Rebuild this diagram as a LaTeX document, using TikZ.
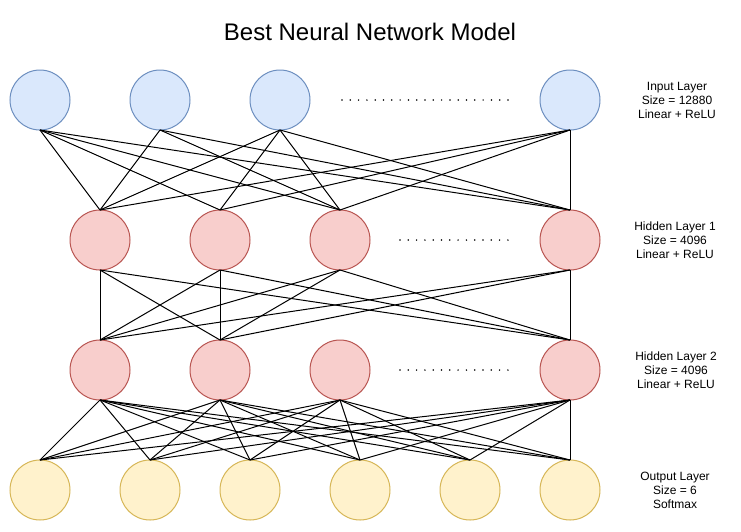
\documentclass[tikz,border=0pt]{standalone}
\usepackage{fontspec}
\setmainfont{Liberation Sans}
\usepackage{xcolor}
\usepackage{tikz}

\definecolor{inFill}{HTML}{DAE8FC}
\definecolor{inLine}{HTML}{6C8EBF}
\definecolor{hidFill}{HTML}{F8CECC}
\definecolor{hidLine}{HTML}{B85450}
\definecolor{outFill}{HTML}{FFF2CC}
\definecolor{outLine}{HTML}{D6B656}

\begin{document}
\begin{tikzpicture}[x=1pt,y=-1pt,
  neuron/.style={circle,minimum size=60pt,inner sep=0pt,outer sep=0pt,line width=1pt},
  inneuron/.style={neuron,draw=inLine,fill=inFill},
  hidneuron/.style={neuron,draw=hidLine,fill=hidFill},
  outneuron/.style={neuron,draw=outLine,fill=outFill},
  layerinfo/.style={align=center,font=\fontsize{12}{14}\selectfont},
  link/.style={line width=1pt,black},
  gap/.style={line width=1.7pt,line cap=round,dash pattern=on 0pt off 8.3pt}]
\useasboundingbox (0,0) rectangle (741,531);

% titolo
\node (title) at (370,32) {\fontsize{24}{28}\selectfont Best Neural Network Model};

% strato di input
\node[inneuron] (in1) at (40,100) {};
\node[inneuron] (in2) at (160,100) {};
\node[inneuron] (in3) at (280,100) {};
\node[inneuron] (in4) at (570,100) {};
\node[layerinfo] (ininfo) at (677,100) {Input Layer\\Size = 12880\\Linear + ReLU};

% strato nascosto 1
\node[hidneuron] (ha1) at (100,240) {};
\node[hidneuron] (ha2) at (220,240) {};
\node[hidneuron] (ha3) at (340,240) {};
\node[hidneuron] (ha4) at (570,240) {};
\node[layerinfo] (hainfo) at (675,240) {Hidden Layer 1\\Size = 4096\\Linear + ReLU};

% strato nascosto 2
\node[hidneuron] (hb1) at (100,370) {};
\node[hidneuron] (hb2) at (220,370) {};
\node[hidneuron] (hb3) at (340,370) {};
\node[hidneuron] (hb4) at (570,370) {};
\node[layerinfo] (hbinfo) at (676,370) {Hidden Layer 2\\Size = 4096\\Linear + ReLU};

% strato di output
\node[outneuron] (out1) at (40,490) {};
\node[outneuron] (out2) at (150,490) {};
\node[outneuron] (out3) at (250,490) {};
\node[outneuron] (out4) at (360,490) {};
\node[outneuron] (out5) at (470,490) {};
\node[outneuron] (out6) at (570,490) {};
\node[layerinfo] (outinfo) at (675,490) {Output Layer\\Size = 6\\Softmax};

% puntini
\draw[gap] (342,100) -- (512,100);
\draw[gap] (400,240) -- (508,240);
\draw[gap] (400,370) -- (508,370);

% collegamenti input -> nascosto 1 (manca in2 -> ha2)
\foreach \i/\j in {1/1,1/2,1/3,1/4,2/1,2/3,2/4,3/1,3/2,3/3,3/4,4/1,4/2,4/3,4/4}
  \draw[link] (in\i.south) -- (ha\j.north);

% nascosto 1 -> nascosto 2 (hb3 senza ingressi)
\foreach \i in {1,...,4}
  \foreach \j in {1,2,4}
    \draw[link] (ha\i.south) -- (hb\j.north);

% nascosto 2 -> output
\foreach \i in {1,...,4}
  \foreach \j in {1,...,6}
    \draw[link] (hb\i.south) -- (out\j.north);
\end{tikzpicture}
\end{document}
